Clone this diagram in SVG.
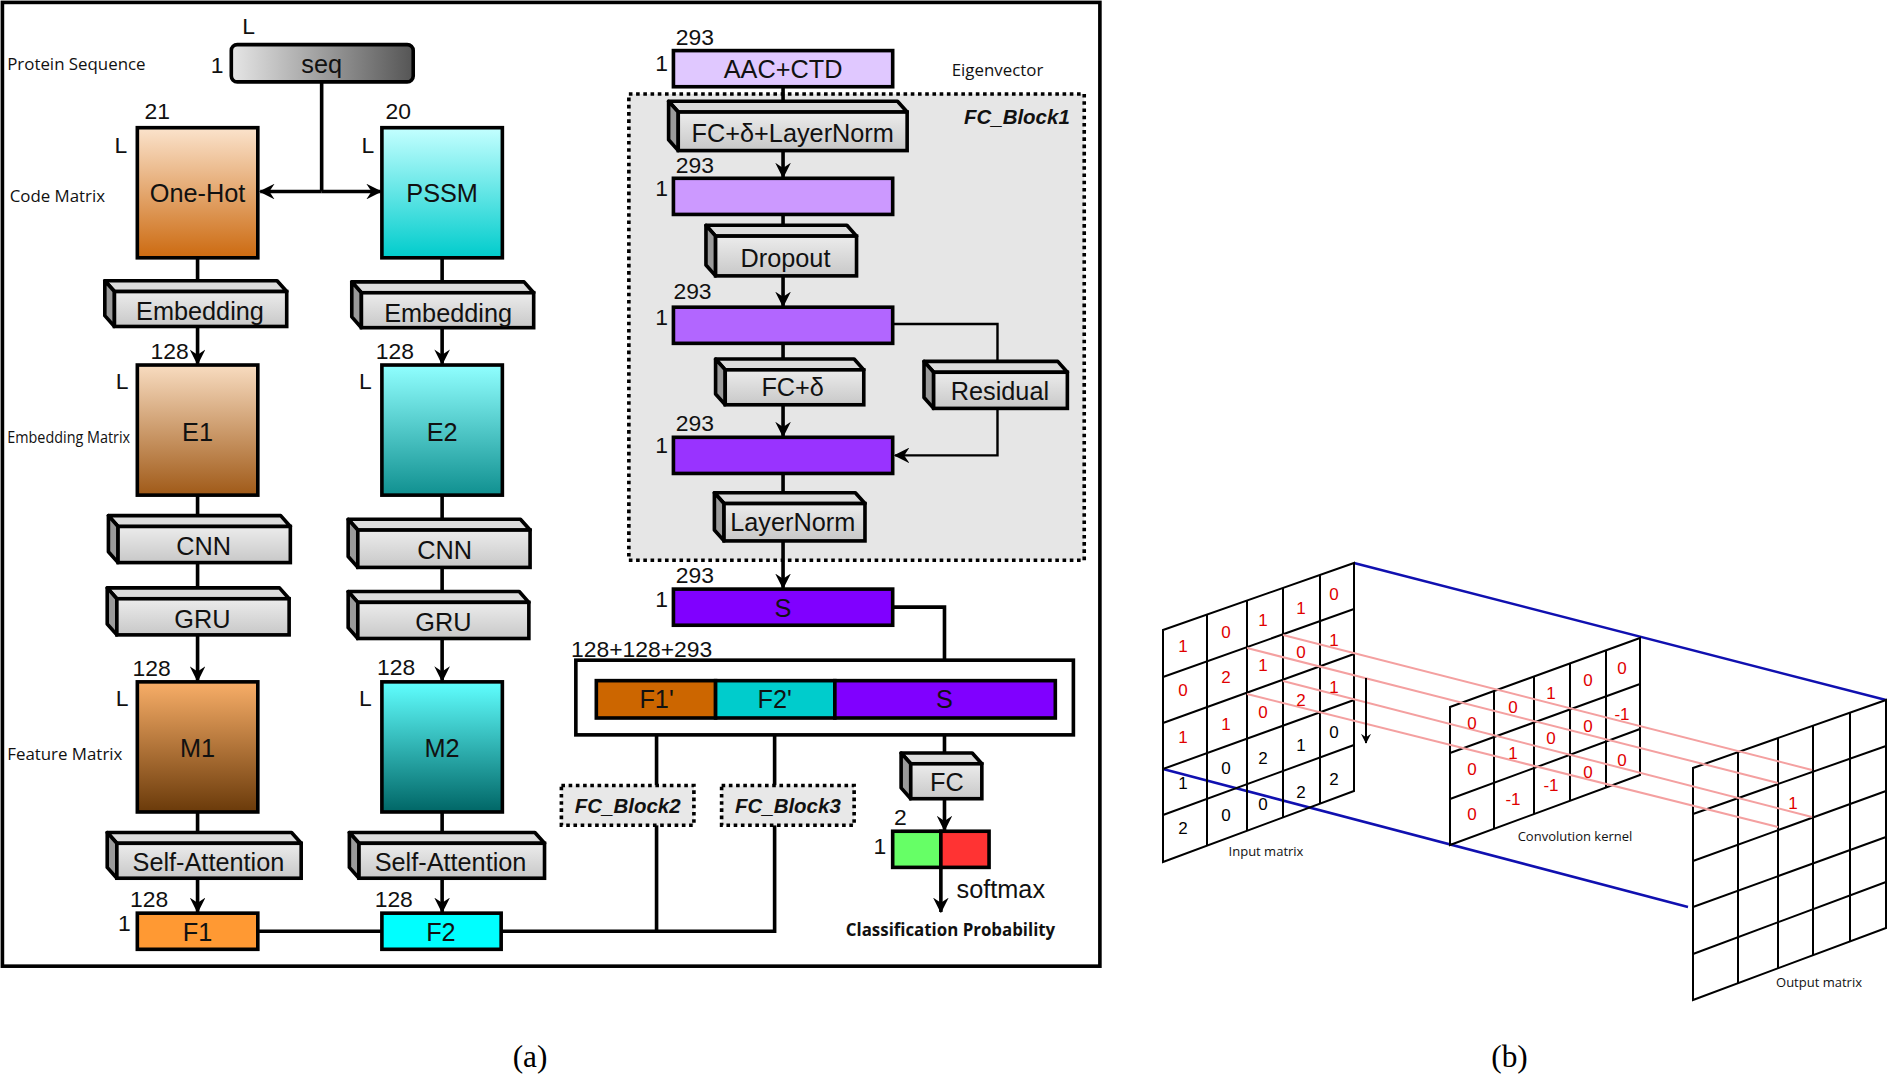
<svg xmlns="http://www.w3.org/2000/svg" width="1889" height="1076" viewBox="0 0 1889 1076">
<defs>
<linearGradient id="gSeq" x1="0" y1="0" x2="1" y2="0"><stop offset="0" stop-color="#e6e6e6"/><stop offset="1" stop-color="#555"/></linearGradient>
<linearGradient id="gOH" x1="0" y1="0" x2="0" y2="1"><stop offset="0" stop-color="#fbe3cc"/><stop offset="1" stop-color="#cc6a10"/></linearGradient>
<linearGradient id="gPS" x1="0" y1="0" x2="0" y2="1"><stop offset="0" stop-color="#c4ffff"/><stop offset="1" stop-color="#00cccc"/></linearGradient>
<linearGradient id="gE1" x1="0" y1="0" x2="0" y2="1"><stop offset="0" stop-color="#f8dcc0"/><stop offset="1" stop-color="#a05a18"/></linearGradient>
<linearGradient id="gE2" x1="0" y1="0" x2="0" y2="1"><stop offset="0" stop-color="#90ffff"/><stop offset="1" stop-color="#109090"/></linearGradient>
<linearGradient id="gM1" x1="0" y1="0" x2="0" y2="1"><stop offset="0" stop-color="#f8ae68"/><stop offset="1" stop-color="#6a3a0a"/></linearGradient>
<linearGradient id="gM2" x1="0" y1="0" x2="0" y2="1"><stop offset="0" stop-color="#60ffff"/><stop offset="1" stop-color="#006666"/></linearGradient>
<linearGradient id="gBlk" x1="0" y1="0" x2="0" y2="1"><stop offset="0" stop-color="#ececec"/><stop offset="1" stop-color="#c8c8c8"/></linearGradient>
<marker id="ah" viewBox="0 0 12 12" refX="11" refY="6" markerWidth="13" markerHeight="13" markerUnits="userSpaceOnUse" orient="auto"><path d="M0,0 L12,6 L0,12 L4,6 Z" fill="#000"/></marker>
<marker id="ah2" viewBox="0 0 12 12" refX="11" refY="6" markerWidth="10" markerHeight="10" markerUnits="userSpaceOnUse" orient="auto"><path d="M0,0 L12,6 L0,12 L4,6 Z" fill="#000"/></marker>
</defs>
<style>
.b{stroke:#000;stroke-width:3}
.t{font-family:"Liberation Sans",Arial,sans-serif;fill:#111}
.l20{font-size:21px;text-anchor:middle}
.n{font-size:19px}
.side{font-family:"Open Sans","DejaVu Sans",sans-serif;font-size:14px;fill:#111}
.top{fill:#dcdcdc;stroke:#000;stroke-width:3;stroke-linejoin:round}
.sd{fill:#9a9a9a;stroke:#000;stroke-width:3;stroke-linejoin:round}
.fr{fill:url(#gBlk);stroke:#000;stroke-width:3}
.c{stroke:#000;stroke-width:3;fill:none}
.g{stroke:#000;stroke-width:2;fill:none}
.rd{font-family:"Liberation Sans",Arial,sans-serif;font-size:17px;fill:#e00000;text-anchor:middle}
.bk{font-family:"Liberation Sans",Arial,sans-serif;font-size:17px;fill:#000;text-anchor:middle}
.pk{stroke:#f4a0a0;stroke-width:2;fill:none}
.bl{stroke:#1010b0;stroke-width:2.5;fill:none}
.cap{font-family:"Open Sans","DejaVu Sans",sans-serif;font-size:13px;fill:#111;text-anchor:middle}
</style>
<rect width="1889" height="1076" fill="#fff"/>
<g transform="scale(1.2047)">
<rect x="2" y="2" width="911" height="800" fill="none" stroke="#000" stroke-width="3"/>
<g id="fcblock1"><rect x="522" y="78" width="378" height="387" fill="#e6e6e6" stroke="#000" stroke-width="3" stroke-dasharray="3,3"/>
<text x="888" y="103" class="t" font-size="17" font-weight="bold" font-style="italic" text-anchor="end">FC_Block1</text></g>

<g id="connectors">
<polyline class="c" points="267,68 267,159"/>
<line class="c" x1="267" y1="159" x2="216" y2="159" marker-end="url(#ah)"/>
<line class="c" x1="267" y1="159" x2="316" y2="159" marker-end="url(#ah)"/>
<line class="c" x1="164" y1="214" x2="164" y2="242"/>
<line class="c" x1="367" y1="214" x2="367" y2="243"/>
<line class="c" x1="164" y1="271" x2="164" y2="302" marker-end="url(#ah)"/>
<line class="c" x1="367" y1="272" x2="367" y2="302" marker-end="url(#ah)"/>
<line class="c" x1="164" y1="411" x2="164" y2="437"/>
<line class="c" x1="164" y1="467" x2="164" y2="497"/>
<line class="c" x1="164" y1="527" x2="164" y2="565" marker-end="url(#ah)"/>
<line class="c" x1="367" y1="411" x2="367" y2="440"/>
<line class="c" x1="367" y1="471" x2="367" y2="500"/>
<line class="c" x1="367" y1="530" x2="367" y2="565" marker-end="url(#ah)"/>
<line class="c" x1="164" y1="674" x2="164" y2="700"/>
<line class="c" x1="367" y1="674" x2="367" y2="700"/>
<line class="c" x1="164" y1="729" x2="164" y2="757" marker-end="url(#ah)"/>
<line class="c" x1="367" y1="729" x2="367" y2="757" marker-end="url(#ah)"/>
<line class="c" x1="214" y1="773" x2="317" y2="773"/>
<polyline class="c" points="416,773 643,773 643,685"/>
<line class="c" x1="545" y1="773" x2="545" y2="685"/>
<line class="c" x1="545" y1="652" x2="545" y2="597" marker-end="url(#ah)"/>
<line class="c" x1="643" y1="652" x2="643" y2="597" marker-end="url(#ah)"/>
<polyline class="c" points="741,504 784,504 784,563" marker-end="url(#ah)"/>
<line class="c" x1="784" y1="610" x2="784" y2="634"/>
<line class="c" x1="784" y1="663" x2="784" y2="689" marker-end="url(#ah)"/>
<line class="c" x1="781" y1="720" x2="781" y2="757" marker-end="url(#ah)"/>
<line class="c" x1="650" y1="72" x2="650" y2="93"/>
<line class="c" x1="650" y1="125" x2="650" y2="147" marker-end="url(#ah)"/>
<line class="c" x1="650" y1="178" x2="650" y2="196"/>
<line class="c" x1="650" y1="229" x2="650" y2="254" marker-end="url(#ah)"/>
<line class="c" x1="650" y1="285" x2="650" y2="307"/>
<line class="c" x1="650" y1="336" x2="650" y2="362" marker-end="url(#ah)"/>
<polyline class="g" points="741,269 828,269 828,300"/>
<polyline class="g" points="828,339 828,378 743,378" marker-end="url(#ah)"/>
<line class="c" x1="650" y1="393" x2="650" y2="418"/>
<line class="c" x1="650" y1="449" x2="650" y2="488" marker-end="url(#ah)"/>
</g>

<g id="seq"><rect x="192" y="37" width="151" height="31" rx="5" fill="url(#gSeq)" class="b"/>
<text x="267" y="61" class="t l20">seq</text><text x="201" y="28" class="t n">L</text><text x="175" y="61" class="t n">1</text>
<text x="6" y="58" class="side">Protein Sequence</text></g>

<g id="onehot"><rect x="114" y="106" width="100" height="108" fill="url(#gOH)" class="b"/>
<text x="164" y="168" class="t l20">One-Hot</text><text x="120" y="99" class="t n">21</text><text x="95" y="127" class="t n">L</text>
<text x="8" y="168" class="side">Code Matrix</text></g>
<g id="pssm"><rect x="317" y="106" width="100" height="108" fill="url(#gPS)" class="b"/>
<text x="367" y="168" class="t l20">PSSM</text><text x="320" y="99" class="t n">20</text><text x="300" y="127" class="t n">L</text></g>

<g id="emb1"><polygon class="top" points="87,233 230,233 238,242 95,242"/><polygon class="sd" points="87,233 95,242 95,271 87,262"/><rect class="fr" x="95" y="242" width="143" height="29"/><text x="166" y="266" class="t l20">Embedding</text></g>
<g id="emb2"><polygon class="top" points="292,234 435,234 443,243 300,243"/><polygon class="sd" points="292,234 300,243 300,272 292,263"/><rect class="fr" x="300" y="243" width="143" height="29"/><text x="372" y="267" class="t l20">Embedding</text></g>

<g id="e1"><rect x="114" y="303" width="100" height="108" fill="url(#gE1)" class="b"/><text x="164" y="366" class="t l20">E1</text><text x="125" y="298" class="t n">128</text><text x="96" y="323" class="t n">L</text>
<text x="6" y="368" class="side" font-size="11" textLength="102" lengthAdjust="spacingAndGlyphs">Embedding Matrix</text></g>
<g id="e2"><rect x="317" y="303" width="100" height="108" fill="url(#gE2)" class="b"/><text x="367" y="366" class="t l20">E2</text><text x="312" y="298" class="t n">128</text><text x="298" y="323" class="t n">L</text></g>

<g id="cnn1"><polygon class="top" points="90,428 233,428 241,437 98,437"/><polygon class="sd" points="90,428 98,437 98,467 90,458"/><rect class="fr" x="98" y="437" width="143" height="30"/><text x="169" y="461" class="t l20">CNN</text></g>
<g id="gru1"><polygon class="top" points="89,488 232,488 240,497 97,497"/><polygon class="sd" points="89,488 97,497 97,527 89,518"/><rect class="fr" x="97" y="497" width="143" height="30"/><text x="168" y="521" class="t l20">GRU</text></g>
<g id="cnn2"><polygon class="top" points="289,431 432,431 440,440 297,440"/><polygon class="sd" points="289,431 297,440 297,471 289,462"/><rect class="fr" x="297" y="440" width="143" height="31"/><text x="369" y="464" class="t l20">CNN</text></g>
<g id="gru2"><polygon class="top" points="289,491 431,491 439,500 297,500"/><polygon class="sd" points="289,491 297,500 297,530 289,521"/><rect class="fr" x="297" y="500" width="142" height="30"/><text x="368" y="524" class="t l20">GRU</text></g>

<g id="m1"><rect x="114" y="566" width="100" height="108" fill="url(#gM1)" class="b"/><text x="164" y="628" class="t l20">M1</text><text x="110" y="561" class="t n">128</text><text x="96" y="586" class="t n">L</text>
<text x="6" y="631" class="side">Feature Matrix</text></g>
<g id="m2"><rect x="317" y="566" width="100" height="108" fill="url(#gM2)" class="b"/><text x="367" y="628" class="t l20">M2</text><text x="313" y="560" class="t n">128</text><text x="298" y="586" class="t n">L</text></g>

<g id="sa1"><polygon class="top" points="89,691 242,691 250,700 97,700"/><polygon class="sd" points="89,691 97,700 97,729 89,720"/><rect class="fr" x="97" y="700" width="153" height="29"/><text x="173" y="723" class="t l20">Self-Attention</text></g>
<g id="sa2"><polygon class="top" points="290,691 444,691 452,700 298,700"/><polygon class="sd" points="290,691 298,700 298,729 290,720"/><rect class="fr" x="298" y="700" width="154" height="29"/><text x="374" y="723" class="t l20">Self-Attention</text></g>

<g id="f1"><rect x="114" y="758" width="100" height="30" fill="#ff9933" class="b"/><text x="164" y="781" class="t l20">F1</text><text x="108" y="753" class="t n">128</text><text x="98" y="773" class="t n">1</text></g>
<g id="f2"><rect x="317" y="758" width="99" height="30" fill="#00ffff" class="b"/><text x="366" y="781" class="t l20">F2</text><text x="311" y="753" class="t n">128</text></g>

<g id="fcblock2"><rect x="466" y="652" width="110" height="33" fill="#e8e8e8" stroke="#000" stroke-width="3" stroke-dasharray="3,3"/><text x="521" y="675" class="t" font-size="17" font-weight="bold" font-style="italic" text-anchor="middle">FC_Block2</text></g>
<g id="fcblock3"><rect x="599" y="652" width="110" height="33" fill="#e8e8e8" stroke="#000" stroke-width="3" stroke-dasharray="3,3"/><text x="654" y="675" class="t" font-size="17" font-weight="bold" font-style="italic" text-anchor="middle">FC_Block3</text></g>

<g id="concat"><rect x="478" y="548" width="413" height="62" fill="#fff" class="b"/>
<rect x="495" y="565" width="99" height="31" fill="#cc6600" class="b"/><rect x="594" y="565" width="99" height="31" fill="#00cccc" class="b"/><rect x="693" y="565" width="183" height="31" fill="#8000ff" class="b"/>
<text x="545" y="588" class="t l20">F1'</text><text x="643" y="588" class="t l20">F2'</text><text x="784" y="588" class="t l20">S</text>
<text x="474" y="545" class="t n">128+128+293</text></g>

<g id="s"><rect x="559" y="489" width="182" height="30" fill="#8000ff" class="b"/><text x="650" y="512" class="t l20">S</text><text x="561" y="484" class="t n">293</text><text x="544" y="504" class="t n">1</text></g>

<g id="fc"><polygon class="top" points="748,625 807,625 815,634 756,634"/><polygon class="sd" points="748,625 756,634 756,663 748,654"/><rect class="fr" x="756" y="634" width="59" height="29"/><text x="786" y="657" class="t l20">FC</text></g>
<g id="out"><rect x="741" y="690" width="40" height="30" fill="#66ff66" class="b"/><rect x="781" y="690" width="40" height="30" fill="#ff3333" class="b"/>
<text x="742" y="685" class="t n">2</text><text x="725" y="709" class="t n">1</text>
<text x="794" y="745" class="t" font-size="21">softmax</text>
<text x="789" y="777" font-family="'Open Sans','DejaVu Sans',sans-serif" font-size="14" font-weight="bold" text-anchor="middle" fill="#111">Classification Probability</text></g>

<g id="aac"><rect x="559" y="42" width="182" height="30" fill="#e0c8ff" class="b"/><text x="650" y="65" class="t l20">AAC+CTD</text><text x="561" y="37" class="t n">293</text><text x="544" y="59" class="t n">1</text>
<text x="790" y="63" class="side">Eigenvector</text></g>

<g id="fcln"><polygon class="top" points="555,84 745,84 753,93 563,93"/><polygon class="sd" points="555,84 563,93 563,125 555,116"/><rect class="fr" x="563" y="93" width="190" height="32"/><text x="658" y="118" class="t l20">FC+δ+LayerNorm</text></g>
<g id="p1"><rect x="559" y="148" width="182" height="30" fill="#cc99ff" class="b"/><text x="561" y="144" class="t n">293</text><text x="544" y="163" class="t n">1</text></g>
<g id="dropout"><polygon class="top" points="586,187 703,187 711,196 594,196"/><polygon class="sd" points="586,187 594,196 594,229 586,220"/><rect class="fr" x="594" y="196" width="117" height="33"/><text x="652" y="222" class="t l20">Dropout</text></g>
<g id="p2"><rect x="559" y="255" width="182" height="30" fill="#b266ff" class="b"/><text x="559" y="248" class="t n">293</text><text x="544" y="270" class="t n">1</text></g>
<g id="fcd"><polygon class="top" points="594,298 709,298 717,307 602,307"/><polygon class="sd" points="594,298 602,307 602,336 594,327"/><rect class="fr" x="602" y="307" width="115" height="29"/><text x="658" y="329" class="t l20">FC+δ</text></g>
<g id="residual"><polygon class="top" points="767,300 878,300 886,309 775,309"/><polygon class="sd" points="767,300 775,309 775,339 767,330"/><rect class="fr" x="775" y="309" width="111" height="30"/><text x="830" y="332" class="t l20">Residual</text></g>
<g id="p3"><rect x="559" y="363" width="182" height="30" fill="#9933ff" class="b"/><text x="561" y="358" class="t n">293</text><text x="544" y="376" class="t n">1</text></g>
<g id="ln"><polygon class="top" points="593,409 710,409 718,418 601,418"/><polygon class="sd" points="593,409 601,418 601,449 593,440"/><rect class="fr" x="601" y="418" width="117" height="31"/><text x="658" y="441" class="t l20">LayerNorm</text></g>

<text x="440" y="886" font-family="'Liberation Serif',serif" font-size="26" text-anchor="middle" fill="#000">(a)</text>
<text x="1253" y="886" font-family="'Liberation Serif',serif" font-size="26" text-anchor="middle" fill="#000">(b)</text>
</g>

<!-- panel b -->
<g id="panel-b">
<line class="bl" x1="1354" y1="563" x2="1886" y2="700"/>
<line class="bl" x1="1163" y1="769" x2="1688" y2="907"/>
<g id="input-matrix" class="g">
<polygon points="1163,630 1354,563 1354,791 1163,862"/>
<line x1="1207" y1="615" x2="1207" y2="846"/><line x1="1247" y1="601" x2="1247" y2="831"/><line x1="1283" y1="588" x2="1283" y2="817"/><line x1="1320" y1="575" x2="1320" y2="804"/>
<line x1="1163" y1="677" x2="1354" y2="609"/><line x1="1163" y1="723" x2="1354" y2="654"/><line x1="1163" y1="769" x2="1354" y2="700"/><line x1="1163" y1="815" x2="1354" y2="745"/>
</g>
<g id="conv-kernel" class="g">
<polygon points="1450,707 1640,638 1640,775 1450,845"/>
<line x1="1494" y1="691" x2="1494" y2="829"/><line x1="1534" y1="677" x2="1534" y2="814"/><line x1="1570" y1="663" x2="1570" y2="801"/><line x1="1606" y1="650" x2="1606" y2="788"/>
<line x1="1450" y1="753" x2="1640" y2="684"/><line x1="1450" y1="799" x2="1640" y2="729"/>
</g>
<g id="output-matrix" class="g">
<polygon points="1693,768 1886,700 1886,928 1693,1000"/>
<line x1="1738" y1="752" x2="1738" y2="983"/><line x1="1778" y1="738" x2="1778" y2="968"/><line x1="1813" y1="726" x2="1813" y2="955"/><line x1="1850" y1="713" x2="1850" y2="941"/>
<line x1="1693" y1="814" x2="1886" y2="746"/><line x1="1693" y1="861" x2="1886" y2="791"/><line x1="1693" y1="907" x2="1886" y2="837"/><line x1="1693" y1="954" x2="1886" y2="882"/>
</g>
<line class="pk" x1="1283" y1="635" x2="1812" y2="770"/>
<line class="pk" x1="1247" y1="648" x2="1778" y2="783"/>
<line class="pk" x1="1283" y1="681" x2="1812" y2="817"/>
<line class="pk" x1="1247" y1="694" x2="1778" y2="827"/>
<line x1="1366" y1="678" x2="1366" y2="743" stroke="#000" stroke-width="2" marker-end="url(#ah2)"/>
<g id="input-values">
<text class="rd" x="1183" y="652">1</text><text class="rd" x="1226" y="638">0</text><text class="rd" x="1263" y="626">1</text><text class="rd" x="1301" y="614">1</text><text class="rd" x="1334" y="600">0</text>
<text class="rd" x="1183" y="696">0</text><text class="rd" x="1226" y="683">2</text><text class="rd" x="1263" y="671">1</text><text class="rd" x="1301" y="658">0</text><text class="rd" x="1334" y="646">1</text>
<text class="rd" x="1183" y="743">1</text><text class="rd" x="1226" y="730">1</text><text class="rd" x="1263" y="718">0</text><text class="rd" x="1301" y="706">2</text><text class="rd" x="1334" y="693">1</text>
<text class="bk" x="1183" y="789">1</text><text class="bk" x="1226" y="774">0</text><text class="bk" x="1263" y="764">2</text><text class="bk" x="1301" y="751">1</text><text class="bk" x="1334" y="738">0</text>
<text class="bk" x="1183" y="834">2</text><text class="bk" x="1226" y="821">0</text><text class="bk" x="1263" y="810">0</text><text class="bk" x="1301" y="798">2</text><text class="bk" x="1334" y="785">2</text>
</g>
<g id="kernel-values">
<text class="rd" x="1472" y="729">0</text><text class="rd" x="1513" y="713">0</text><text class="rd" x="1551" y="699">1</text><text class="rd" x="1588" y="686">0</text><text class="rd" x="1622" y="674">0</text>
<text class="rd" x="1472" y="775">0</text><text class="rd" x="1513" y="759">1</text><text class="rd" x="1551" y="744">0</text><text class="rd" x="1588" y="732">0</text><text class="rd" x="1622" y="720">-1</text>
<text class="rd" x="1472" y="820">0</text><text class="rd" x="1513" y="805">-1</text><text class="rd" x="1551" y="791">-1</text><text class="rd" x="1588" y="778">0</text><text class="rd" x="1622" y="766">0</text>
</g>
<text class="rd" x="1793" y="809">1</text>
<text class="cap" x="1266" y="856">Input matrix</text>
<text class="cap" x="1575" y="841">Convolution kernel</text>
<text class="cap" x="1819" y="987">Output matrix</text>
</g>
</svg>
